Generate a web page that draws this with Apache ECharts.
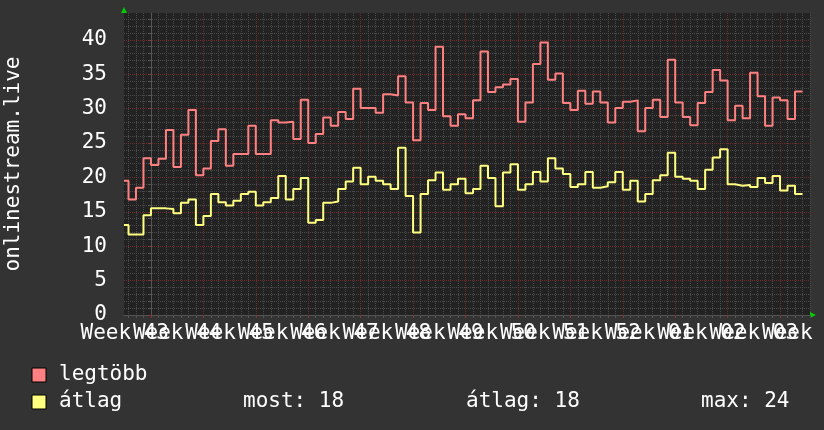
<!DOCTYPE html>
<html><head><meta charset="utf-8">
<script src="https://cdn.jsdelivr.net/npm/echarts@6/dist/echarts.min.js"></script>
<style>html,body{margin:0;padding:0;background:#333333;}#c{width:824px;height:430px;}</style>
</head><body><div id="c"></div>
<script>
// ---- data ----
const seriesNames = ['legtöbb', 'átlag'];
// daily values, first entry is the partial day before day -3
const firstDay = -4;
const legtobb = [19.5,16.8,18.5,22.8,21.8,22.7,26.9,21.5,26.2,29.8,20.3,21.3,25.3,27.0,21.7,23.4,23.4,27.5,23.4,23.4,
  28.3,28.0,28.1,25.6,31.3,25.0,26.3,28.7,27.5,29.5,28.5,32.9,30.1,30.1,29.4,32.1,31.9,34.7,30.9,25.4,
  30.8,29.8,39.0,28.9,27.5,29.2,28.6,31.2,38.3,32.4,33.1,33.5,34.3,28.1,30.9,36.5,39.6,34.2,35.1,30.8,
  29.8,32.6,30.7,32.5,30.9,28.0,30.1,31.0,31.2,26.7,30.1,31.3,28.8,37.1,30.9,28.8,27.6,30.8,32.4,35.6,
  34.1,28.3,30.4,28.6,35.2,31.8,27.5,31.6,31.2,28.5,32.5];
const atlag = [13.1,11.7,11.7,14.5,15.5,15.5,15.4,14.8,16.3,16.8,13.1,14.4,17.6,16.4,15.9,16.6,17.6,17.9,15.9,16.4,
  17.0,20.2,16.8,18.3,19.9,13.4,13.8,16.3,16.5,18.3,19.4,21.4,19.0,20.1,19.5,19.0,18.3,24.3,17.3,12.0,
  17.6,19.6,20.7,18.2,19.0,19.8,17.7,18.3,21.7,19.9,15.8,20.7,21.9,18.2,19.0,20.8,19.4,22.8,21.3,20.5,
  18.6,19.0,20.8,18.5,18.7,19.3,20.8,18.2,19.5,16.5,17.6,19.6,20.3,23.6,20.1,19.8,19.5,18.3,21.1,22.9,
  24.1,19.0,18.8,18.9,18.6,19.9,19.2,20.2,18.1,18.8,17.6];
const weekNames = ['43','44','45','46','47','48','49','50','51','52','01','02','03','04'];
const yTicks = [0,5,10,15,20,25,30,35,40];
const stats = [['most', 18], ['átlag', 18], ['max', 24]];
const axisTitle = 'onlinestream.live';

// ---- layout ----
const xMin = -3.6, xMax = 88, yMin = 0, yMax = 43.9;
const FONT = 'DejaVu Sans Mono';
const weekLines = weekNames.map((w, j) => 7 * j);
const weekMids = weekNames.map((w, j) => 7 * j - 3.5);
const dayLines = [];
for (let d = Math.ceil(xMin); d <= xMax; d++) dayLines.push(d);
const minorY = [];
for (let v = yMin; v <= yMax; v++) minorY.push(v);

function stepData(vals) {
  const pts = vals.map((v, i) => [Math.max(firstDay + i, xMin), v]);
  pts.push([firstDay + vals.length, vals[vals.length - 1]]);
  return pts;
}
const colors = ['#ff8080', '#ffff80'];
const minorColor = '#4a4a4a', majorColor = '#6e2c2c';
const minorLine = { show: true, lineStyle: { color: minorColor, width: 1, type: [1, 1] } };
const majorLine = { show: true, lineStyle: { color: majorColor, width: 1, type: [1, 1] } };
const minorTick = { show: true, length: 3, lineStyle: { color: '#555555', width: 1 } };
const majorTick = { show: true, length: 3, lineStyle: { color: '#8a3535', width: 1 } };

const chart = echarts.init(document.getElementById('c'), null, { renderer: 'canvas' });
const option = {
  backgroundColor: '#333333',
  animation: false,
  grid: { left: 124, right: 14, top: 13, bottom: 115, show: true, backgroundColor: '#222222', borderWidth: 0,
    containLabel: false, outerBoundsMode: 'none' },
  xAxis: [
    { type: 'value', min: xMin, max: xMax, position: 'bottom',
      axisLine: { show: false }, axisLabel: { show: false },
      axisTick: Object.assign({ customValues: dayLines }, minorTick), splitLine: minorLine },
    { type: 'value', min: xMin, max: xMax, position: 'bottom',
      axisLine: { show: true, lineStyle: { color: '#555555', width: 1 } },
      axisTick: Object.assign({ customValues: weekLines }, majorTick),
      splitLine: majorLine, axisLabel: { show: false } }
  ],
  yAxis: [
    { type: 'value', min: yMin, max: yMax, position: 'left',
      axisLine: { show: false }, axisLabel: { show: false },
      axisTick: Object.assign({ customValues: minorY }, minorTick), splitLine: minorLine },
    { type: 'value', min: yMin, max: yMax, position: 'left',
      name: axisTitle, nameLocation: 'middle', nameGap: 100,
      nameTextStyle: { color: '#ffffff', fontFamily: FONT, fontSize: 21 },
      axisLine: { show: true, lineStyle: { color: '#555555', width: 1 } },
      axisTick: Object.assign({ customValues: yTicks }, majorTick),
      splitLine: majorLine,
      axisLabel: { show: true, customValues: yTicks, margin: 17, color: '#ffffff',
        fontFamily: FONT, fontSize: 21, formatter: v => String(v) } }
  ],
  series: [
    { name: seriesNames[0], type: 'line', xAxisIndex: 1, yAxisIndex: 1, step: 'end', showSymbol: false,
      symbol: 'none', data: stepData(legtobb), lineStyle: { color: colors[0], width: 2 }, itemStyle: { color: colors[0] } },
    { name: seriesNames[1], type: 'line', xAxisIndex: 1, yAxisIndex: 1, step: 'end', showSymbol: false,
      symbol: 'none', data: stepData(atlag), lineStyle: { color: colors[1], width: 2 }, itemStyle: { color: colors[1] } }
  ]
};
chart.setOption(option);

// decorations: week labels (placed through the axis scale), arrows, legend
const origin = chart.convertToPixel({ xAxisIndex: 1, yAxisIndex: 1 }, [xMin, yMin]);
const topRight = chart.convertToPixel({ xAxisIndex: 1, yAxisIndex: 1 }, [xMax, yMax]);
const green = '#00cc00';
const textStyle = { fill: '#ffffff', font: '21px "' + FONT + '"', textVerticalAlign: 'middle' };
const graphics = [];
weekMids.forEach((d, j) => {
  const px = chart.convertToPixel({ xAxisIndex: 1 }, d);
  graphics.push({ type: 'text', x: px, y: origin[1] + 8,
    style: { text: 'Week ' + weekNames[j], fill: '#ffffff', font: '21px "' + FONT + '"', textAlign: 'center', textVerticalAlign: 'top' } });
});
graphics.push(
  { type: 'polygon', shape: { points: [[origin[0] - 3, topRight[1]], [origin[0] + 3, topRight[1]], [origin[0], topRight[1] - 6]] }, style: { fill: green } },
  { type: 'polygon', shape: { points: [[topRight[0], origin[1] - 3], [topRight[0], origin[1] + 3], [topRight[0] + 6, origin[1]]] }, style: { fill: green } }
);
const legendRows = [375, 402];
seriesNames.forEach((n, i) => {
  graphics.push({ type: 'rect', shape: { x: 32, y: legendRows[i] - 7, width: 14, height: 14 },
    style: { fill: colors[i], stroke: '#000000', lineWidth: 1 } });
  graphics.push({ type: 'text', x: 59, y: legendRows[i], style: Object.assign({ text: n }, textStyle) });
});
const statX = [243, 466, 701];
stats.forEach((s, i) => {
  graphics.push({ type: 'text', x: statX[i], y: legendRows[1], style: Object.assign({ text: s[0] + ': ' + s[1] }, textStyle) });
});
chart.setOption({ graphic: graphics });
</script></body></html>
